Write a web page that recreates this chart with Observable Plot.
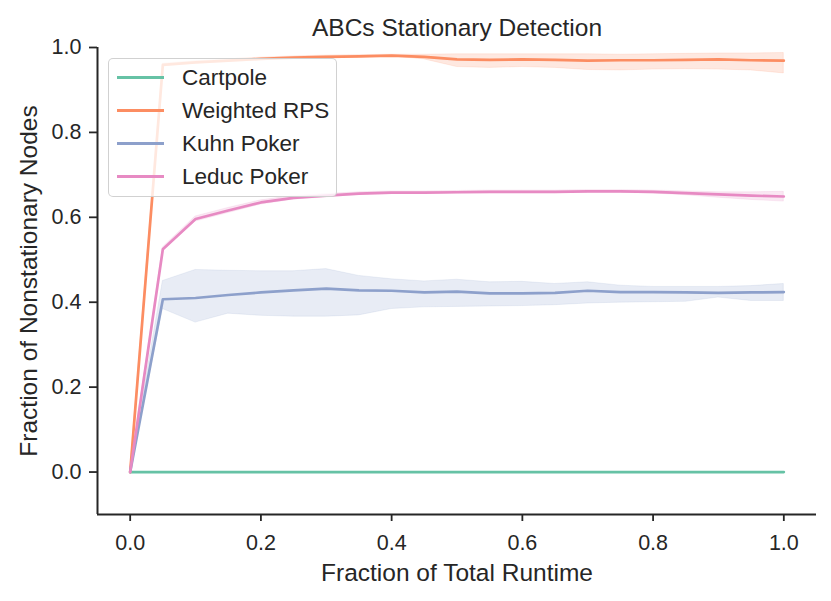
<!DOCTYPE html>
<html>
<head>
<meta charset="utf-8">
<script src="https://cdn.jsdelivr.net/npm/d3@7"></script>
<script src="https://cdn.jsdelivr.net/npm/@observablehq/plot@0.6"></script>
<style>
  html, body { margin: 0; padding: 0; background: #fff; }
  #wrap { position: relative; width: 831px; height: 601px; font-family: "Liberation Sans", Arial, sans-serif; }
  #legend { position: absolute; left: 108px; top: 58px; width: 227px; height: 137px;
    border: 1.5px solid rgba(204,204,204,0.9); border-radius: 5px; background: rgba(255,255,255,0.8); }
  .item { position: absolute; left: 0; height: 0; }
  .swatch { position: absolute; left: 8px; width: 47px; height: 3px; top: -1.5px; }
  .lab { position: absolute; left: 73px; top: 0; transform: translateY(-50%); font-size: 22.5px; color: #262626; white-space: nowrap; line-height: 1; }
</style>
</head>
<body>
<div id="wrap"></div>
<script>
const series = ["Cartpole", "Weighted RPS", "Kuhn Poker", "Leduc Poker"];
const colors = ["#66c2a5", "#fc8d62", "#8da0cb", "#e78ac3"];
const xs = [0, 0.05, 0.1, 0.15, 0.2, 0.25, 0.3, 0.35, 0.4, 0.45, 0.5, 0.55, 0.6, 0.65, 0.7, 0.75, 0.8, 0.85, 0.9, 0.95, 1.0];
const xTicks = [0, 0.2, 0.4, 0.6, 0.8, 1.0];
const yTicks = [0, 0.2, 0.4, 0.6, 0.8, 1.0];

const cartpoleMean = [0,0,0,0,0,0,0,0,0,0,0,0,0,0,0,0,0,0,0,0,0];
const cartpoleLo   = [0,0,0,0,0,0,0,0,0,0,0,0,0,0,0,0,0,0,0,0,0];
const cartpoleHi   = [0,0,0,0,0,0,0,0,0,0,0,0,0,0,0,0,0,0,0,0,0];

const rpsMean = [0, 0.959, 0.965, 0.969, 0.973, 0.976, 0.978, 0.979, 0.981, 0.978, 0.972, 0.971, 0.972, 0.971, 0.969, 0.970, 0.970, 0.971, 0.972, 0.970, 0.969];
const rpsHi   = [0, 0.962, 0.968, 0.972, 0.976, 0.979, 0.981, 0.982, 0.983, 0.983, 0.984, 0.984, 0.984, 0.984, 0.984, 0.983, 0.984, 0.985, 0.986, 0.986, 0.987];
const rpsLo   = [0, 0.956, 0.962, 0.966, 0.970, 0.973, 0.975, 0.976, 0.979, 0.972, 0.954, 0.952, 0.954, 0.952, 0.947, 0.946, 0.948, 0.949, 0.948, 0.946, 0.939];

const kuhnMean = [0, 0.407, 0.410, 0.417, 0.423, 0.428, 0.432, 0.428, 0.427, 0.423, 0.425, 0.421, 0.421, 0.422, 0.427, 0.424, 0.424, 0.423, 0.422, 0.423, 0.424];
const kuhnHi   = [0, 0.450, 0.476, 0.474, 0.473, 0.473, 0.478, 0.462, 0.454, 0.449, 0.453, 0.447, 0.448, 0.443, 0.447, 0.439, 0.436, 0.436, 0.436, 0.438, 0.443];
const kuhnLo   = [0, 0.384, 0.352, 0.373, 0.368, 0.366, 0.366, 0.369, 0.384, 0.388, 0.389, 0.390, 0.391, 0.393, 0.397, 0.399, 0.400, 0.401, 0.411, 0.403, 0.403];

const leducMean = [0, 0.525, 0.596, 0.616, 0.635, 0.646, 0.651, 0.656, 0.658, 0.658, 0.659, 0.660, 0.660, 0.660, 0.661, 0.661, 0.660, 0.657, 0.654, 0.651, 0.649];
const leducHi   = [0, 0.529, 0.602, 0.622, 0.640, 0.650, 0.655, 0.659, 0.661, 0.661, 0.662, 0.663, 0.663, 0.663, 0.664, 0.664, 0.663, 0.661, 0.659, 0.659, 0.660];
const leducLo   = [0, 0.521, 0.590, 0.610, 0.630, 0.642, 0.647, 0.653, 0.655, 0.655, 0.656, 0.657, 0.657, 0.657, 0.658, 0.658, 0.656, 0.652, 0.646, 0.641, 0.637];

const means = [cartpoleMean, rpsMean, kuhnMean, leducMean];
const los = [cartpoleLo, rpsLo, kuhnLo, leducLo];
const his = [cartpoleHi, rpsHi, kuhnHi, leducHi];

const tables = series.map((s, i) => xs.map((x, j) => ({series: s, x, mean: means[i][j], lo: los[i][j], hi: his[i][j]})));

const ink = "#262626";
const font = "\"Liberation Sans\", Arial, sans-serif";

const dataMarks = [];
series.forEach((s, i) => {
  if (i > 0) dataMarks.push(Plot.areaY(tables[i], {x: "x", y1: "lo", y2: "hi", fill: colors[i], fillOpacity: 0.2, stroke: colors[i], strokeOpacity: 0.15, strokeWidth: 1}));
  dataMarks.push(Plot.line(tables[i], {x: "x", y: "mean", stroke: colors[i], strokeWidth: 2.7}));
});

const chart = Plot.plot({
  width: 831,
  height: 601,
  marginLeft: 97,
  marginRight: 15,
  marginTop: 47,
  marginBottom: 87,
  style: {fontFamily: font, color: ink, background: "#fff", overflow: "visible"},
  x: {domain: [-0.05, 1.05]},
  y: {domain: [-0.1, 1.0]},
  marks: [
    ...dataMarks,
    Plot.ruleX([-0.05], {stroke: ink, strokeWidth: 2}),
    Plot.ruleY([-0.1], {stroke: ink, strokeWidth: 2}),
    Plot.axisX(xTicks, {tickFormat: d3.format(".1f"), tickSize: 7, tickPadding: 13, fontSize: 21.5, stroke: ink, strokeWidth: 1.8, label: null, fill: ink}),
    Plot.axisY(yTicks, {tickFormat: d3.format(".1f"), tickSize: 8, tickPadding: 8, fontSize: 21.5, stroke: ink, strokeWidth: 1.8, label: null, fill: ink}),
    Plot.text(["ABCs Stationary Detection"], {frameAnchor: "top", dy: -12, lineAnchor: "bottom", fontSize: 24.5, fill: ink}),
    Plot.text(["Fraction of Total Runtime"], {frameAnchor: "bottom", dy: 66, lineAnchor: "bottom", fontSize: 24.5, fill: ink}),
    Plot.text(["Fraction of Nonstationary Nodes"], {frameAnchor: "left", dx: -61, rotate: -90, textAnchor: "middle", lineAnchor: "bottom", fontSize: 24.5, fill: ink})
  ]
});

const wrap = document.getElementById("wrap");
wrap.appendChild(chart);

const legend = document.createElement("div");
legend.id = "legend";
const rowY = [18.5, 51.5, 84.8, 117.8];
series.forEach((s, i) => {
  const item = document.createElement("div");
  item.className = "item";
  item.style.top = rowY[i] + "px";
  const sw = document.createElement("div");
  sw.className = "swatch";
  sw.style.background = colors[i];
  const lab = document.createElement("div");
  lab.className = "lab";
  lab.textContent = s;
  item.appendChild(sw);
  item.appendChild(lab);
  legend.appendChild(item);
});
wrap.appendChild(legend);
</script>
</body>
</html>
